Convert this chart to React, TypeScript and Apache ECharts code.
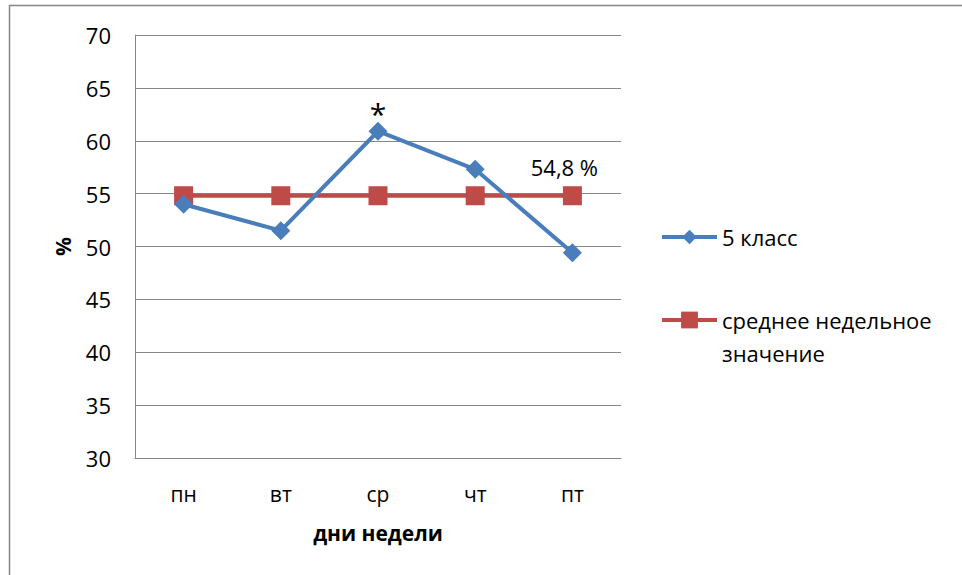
import React, { useEffect, useRef } from "react";
import * as echarts from "echarts";

const days = ["пн", "вт", "ср", "чт", "пт"];
const class5 = [54.0, 51.5, 60.9, 57.3, 49.4];
const weeklyAvg = [54.8, 54.8, 54.8, 54.8, 54.8];
const yTicks = { min: 30, max: 70, interval: 5 };
const seriesNames = ["5 класс", "среднее недельное значение"];
const starIndex = 2;
const avgLabelIndex = 4;
const avgLabelText = "54,8 %";

const FONT = "'Open Sans', 'Noto Sans', sans-serif";

export default function App() {
  const ref = useRef<HTMLDivElement>(null);
  useEffect(() => {
    if (!ref.current) return;
    const chart = echarts.init(ref.current, undefined, { renderer: "svg" });
    const gray = "#868686";
    chart.setOption({
      animation: false,
      backgroundColor: "#ffffff",
      textStyle: { fontFamily: FONT },
      graphic: [
        {
          type: "rect",
          shape: { x: 9.5, y: 5.5, width: 1000, height: 700 },
          style: { fill: "none", stroke: gray, lineWidth: 1.5 },
          silent: true,
        },
      ],
      grid: { left: 135, right: 341, top: 35, bottom: 117, containLabel: false },
      xAxis: {
        type: "category",
        data: days,
        boundaryGap: true,
        axisLine: { show: true, lineStyle: { color: gray, width: 1 } },
        axisTick: { show: false },
        axisLabel: { color: "#000", fontSize: 21, fontFamily: FONT, margin: 25 },
        name: "дни недели",
        nameLocation: "middle",
        nameGap: 64,
        nameTextStyle: { color: "#000", fontSize: 21, fontWeight: "bold", fontFamily: FONT },
      },
      yAxis: {
        type: "value",
        min: yTicks.min,
        max: yTicks.max,
        interval: yTicks.interval,
        axisLine: { show: true, lineStyle: { color: gray, width: 1 } },
        axisTick: { show: false },
        axisLabel: { color: "#000", fontSize: 22, fontFamily: FONT, margin: 24 },
        splitLine: { show: true, lineStyle: { color: gray, width: 1 } },
        name: "%",
        nameLocation: "middle",
        nameGap: 62,
        nameRotate: 90,
        nameTextStyle: { color: "#000", fontSize: 21, fontWeight: "bold", fontFamily: FONT },
      },
      legend: [
        {
          data: [seriesNames[0]],
          orient: "vertical",
          left: 660,
          top: 220.5,
          itemWidth: 55,
          itemHeight: 18,
          itemGap: 0,
          textGap: 2,
          padding: 0,
          lineStyle: { width: 4 },
          textStyle: { color: "#000", fontSize: 22, fontFamily: FONT, lineHeight: 33 },
          selectedMode: false,
        },
        {
          data: [seriesNames[1]],
          orient: "vertical",
          left: 660,
          top: 270.5,
          itemWidth: 55,
          itemHeight: 21,
          itemGap: 0,
          textGap: 2,
          padding: 0,
          lineStyle: { width: 4 },
          formatter: () => " \nсреднее недельное\nзначение",
          textStyle: {
            color: "#000",
            fontSize: 22,
            fontFamily: FONT,
            lineHeight: 33,
          },
          selectedMode: false,
        },
      ],
      series: [
        {
          name: seriesNames[0],
          type: "line",
          data: class5.map((v, i) =>
            i === starIndex
              ? {
                  value: v,
                  label: {
                    show: true,
                    position: "top",
                    distance: -7,
                    formatter: "*",
                    fontSize: 30,
                    color: "#000",
                    fontFamily: FONT,
                  },
                }
              : v
          ),
          symbol: "diamond",
          symbolSize: 19,
          lineStyle: { color: "#4A7EBB", width: 4 },
          itemStyle: { color: "#4A7EBB" },
          z: 3,
        },
        {
          name: seriesNames[1],
          type: "line",
          data: weeklyAvg.map((v, i) =>
            i === avgLabelIndex
              ? {
                  value: v,
                  label: {
                    show: true,
                    position: "top",
                    distance: 8,
                    offset: [-8, 0],
                    formatter: avgLabelText,
                    fontSize: 22,
                    color: "#000",
                    fontFamily: FONT,
                  },
                }
              : v
          ),
          symbol: "rect",
          symbolSize: 19,
          lineStyle: { color: "#BE4B48", width: 4 },
          itemStyle: { color: "#BE4B48" },
          z: 2,
        },
      ],
    });
    return () => chart.dispose();
  }, []);
  return <div ref={ref} style={{ width: 962, height: 575, position: "fixed", left: 0, top: 0 }} />;
}
